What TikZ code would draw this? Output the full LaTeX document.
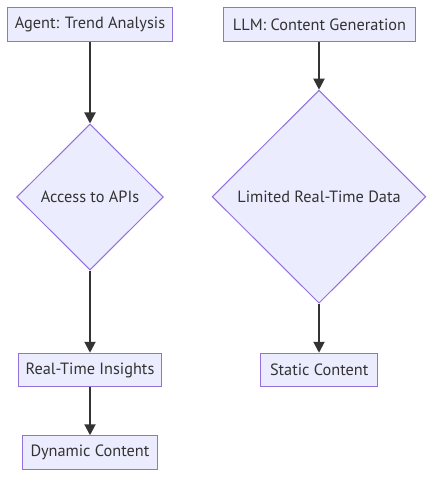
\documentclass[tikz,border=0pt]{standalone}
\usepackage{fontspec}
\setmainfont{PT Sans}
\usetikzlibrary{shapes.geometric,arrows.meta}
\definecolor{nodefill}{HTML}{ECECFF}
\definecolor{nodeline}{HTML}{9370DB}
\definecolor{ink}{HTML}{333333}
\tikzset{
  box/.style={draw=nodeline, fill=nodefill, line width=1pt, rectangle, inner sep=0pt,
    minimum height=33.5pt, text=ink, font=\fontsize{16.3}{19}\selectfont},
  decision/.style={draw=nodeline, fill=nodefill, line width=1pt, diamond, inner sep=0pt,
    text=ink, font=\fontsize{16.3}{19}\selectfont},
  flow/.style={draw=ink, line width=2pt, -{Triangle[width=11pt,length=11pt]}},
}
\begin{document}
\begin{tikzpicture}[x=1pt,y=-1pt]
\useasboundingbox (0,0) rectangle (442,486);
\node[box, minimum width=165pt] (agent) at (90,24.3) {Agent: Trend Analysis};
\node[decision, minimum width=146.6pt, minimum height=146pt] (apis) at (90,197) {Access to APIs};
\node[box, minimum width=143.4pt] (insights) at (90,370) {Real-Time Insights};
\node[box, minimum width=135.4pt] (dynamic) at (90,452.5) {Dynamic Content};
\node[box, minimum width=192.4pt] (llm) at (319.5,24.3) {LLM: Content Generation};
\node[decision, minimum width=213.7pt, minimum height=213pt] (limited) at (319,196.7) {Limited Real-Time Data};
\node[box, minimum width=117pt] (static) at (319.2,370) {Static Content};
\draw[flow] (agent) -- (apis);
\draw[flow] (apis) -- (insights);
\draw[flow] (insights) -- (dynamic);
\draw[flow] (llm.south -| limited.north) -- (limited.north);
\draw[flow] (limited) -- (static.north -| limited.south);
\end{tikzpicture}
\end{document}
